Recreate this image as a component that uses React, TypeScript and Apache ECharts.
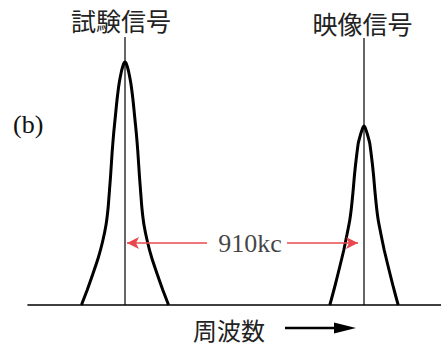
import React, { useEffect, useRef } from "react";
import * as echarts from "echarts";

// x and y in chart units (1 unit ≈ 1 px), baseline at y = 0
const testSignalCurve: number[][] = [
  [53.5, 0], [54.2, 2], [59.2, 15], [64.5, 30], [70.2, 47], [74.5, 63], [78, 80],
  [80.1, 97], [81.5, 115], [82.5, 128], [83.3, 140], [84.3, 155], [85.7, 172],
  [87.3, 188], [89, 205], [91.2, 222], [93.3, 233], [94.6, 238], [96, 242], [97, 243],
  [98, 242], [99.4, 238], [100.7, 233], [102.8, 222], [105, 205], [106.7, 188],
  [108.3, 172], [109.7, 155], [110.7, 140], [111.5, 128], [112.5, 115], [113.9, 97],
  [116, 80], [119.5, 63], [123.8, 47], [129.5, 30], [134.8, 15], [139.8, 2], [140.5, 0],
];
const videoSignalCurve: number[][] = [
  [301.8, 0], [303.2, 5], [307.2, 20], [311.7, 38], [315.8, 55], [319.3, 72],
  [321.8, 85], [323.5, 98], [325, 113], [326.3, 128], [327.4, 139], [328.7, 150],
  [330.3, 162], [332.7, 171], [334, 175], [335.2, 178], [336, 179], [336.8, 178],
  [338, 175], [339.3, 171], [341.7, 162], [343.3, 150], [344.6, 139], [345.7, 128],
  [347, 113], [348.5, 98], [350.2, 85], [352.7, 72], [356.2, 55], [360.3, 38],
  [364.8, 20], [368.8, 5], [370.2, 0],
];
const testSignalMarker: number[][] = [[97, 0], [97, 268]];
const videoSignalMarker: number[][] = [[336, 0], [336, 267]];
const peakLabels = ["試験信号", "映像信号"];
const spacingLabel = "910kc";
const spacingLevel = 62;
const spacingLeftArrow = [179, 99];
const spacingRightArrow = [259, 330];
const spacingLabelX = 222;
const panelLabel = "(b)";
const axisLabel = "周波数";

const CJK = "Noto Sans CJK JP";
const SERIF = "Liberation Serif";

export default function App() {
  const ref = useRef<HTMLDivElement>(null);
  useEffect(() => {
    if (!ref.current) return;
    const chart = echarts.init(ref.current, null, { renderer: "svg" });
    const red = "#e8474d";
    const peakLabel = (text: string, dx: number, dist: number) => ({
      show: true,
      position: "top",
      distance: dist,
      offset: [dx, 0],
      formatter: text,
      fontFamily: CJK,
      fontSize: 25,
      color: "#222",
    });
    chart.setOption({
      animation: false,
      grid: { left: 28, right: 0, top: 5, bottom: 40 },
      xAxis: {
        type: "value",
        min: 0,
        max: 413,
        axisLine: { show: true, onZero: false, lineStyle: { color: "#000", width: 1.6 } },
        axisTick: { show: false },
        axisLabel: { show: false },
        splitLine: { show: false },
      },
      yAxis: {
        type: "value",
        min: 0,
        max: 300,
        show: false,
        splitLine: { show: false },
      },
      series: [
        {
          type: "line",
          data: testSignalCurve,
          smooth: 0.15,
          symbol: "none",
          lineStyle: { color: "#000", width: 3, join: "round" },
          z: 3,
        },
        {
          type: "line",
          data: videoSignalCurve,
          smooth: 0.15,
          symbol: "none",
          lineStyle: { color: "#000", width: 3, join: "round" },
          z: 3,
        },
        {
          type: "line",
          data: [
            testSignalMarker[0],
            { value: testSignalMarker[1], label: peakLabel(peakLabels[0], -4, 4) },
          ],
          symbol: "circle",
          symbolSize: 0.1,
          showSymbol: true,
          lineStyle: { color: "#000", width: 1.2 },
          z: 2,
        },
        {
          type: "line",
          data: [
            videoSignalMarker[0],
            { value: videoSignalMarker[1], label: peakLabel(peakLabels[1], -1.5, 2) },
          ],
          symbol: "circle",
          symbolSize: 0.1,
          showSymbol: true,
          lineStyle: { color: "#000", width: 1.2 },
          z: 2,
        },
        {
          type: "scatter",
          data: [[spacingLabelX, spacingLevel]],
          symbolSize: 0,
          label: {
            show: true,
            position: "inside",
            formatter: spacingLabel,
            fontFamily: SERIF,
            fontSize: 26,
            color: "#111",
          },
          markLine: {
            silent: true,
            symbol: ["none", "arrow"],
            symbolSize: [9, 12],
            label: { show: false },
            lineStyle: { color: red, width: 1.6, type: "solid" },
            data: [
              [
                { coord: [spacingLeftArrow[0], spacingLevel] },
                { coord: [spacingLeftArrow[1], spacingLevel] },
              ],
              [
                { coord: [spacingRightArrow[0], spacingLevel] },
                { coord: [spacingRightArrow[1], spacingLevel] },
              ],
            ],
          },
        },
      ],
      graphic: [
        {
          type: "text",
          x: 13,
          y: 124,
          style: {
            text: panelLabel,
            fontFamily: SERIF,
            fontSize: 26,
            fill: "#111",
            verticalAlign: "middle",
          },
        },
        {
          type: "text",
          x: 193,
          y: 329,
          style: {
            text: axisLabel,
            fontFamily: CJK,
            fontSize: 24,
            fill: "#222",
            verticalAlign: "middle",
          },
        },
        {
          type: "line",
          shape: { x1: 285, y1: 328, x2: 340, y2: 328 },
          style: { stroke: "#000", lineWidth: 2.5 },
        },
        {
          type: "polygon",
          shape: { points: [[334, 322.5], [356, 328], [334, 333.5]] },
          style: { fill: "#000" },
        },
      ],
    });
    return () => chart.dispose();
  }, []);
  return (
    <div
      ref={ref}
      style={{ position: "absolute", left: 0, top: 0, width: 441, height: 345, background: "#fff" }}
    />
  );
}
